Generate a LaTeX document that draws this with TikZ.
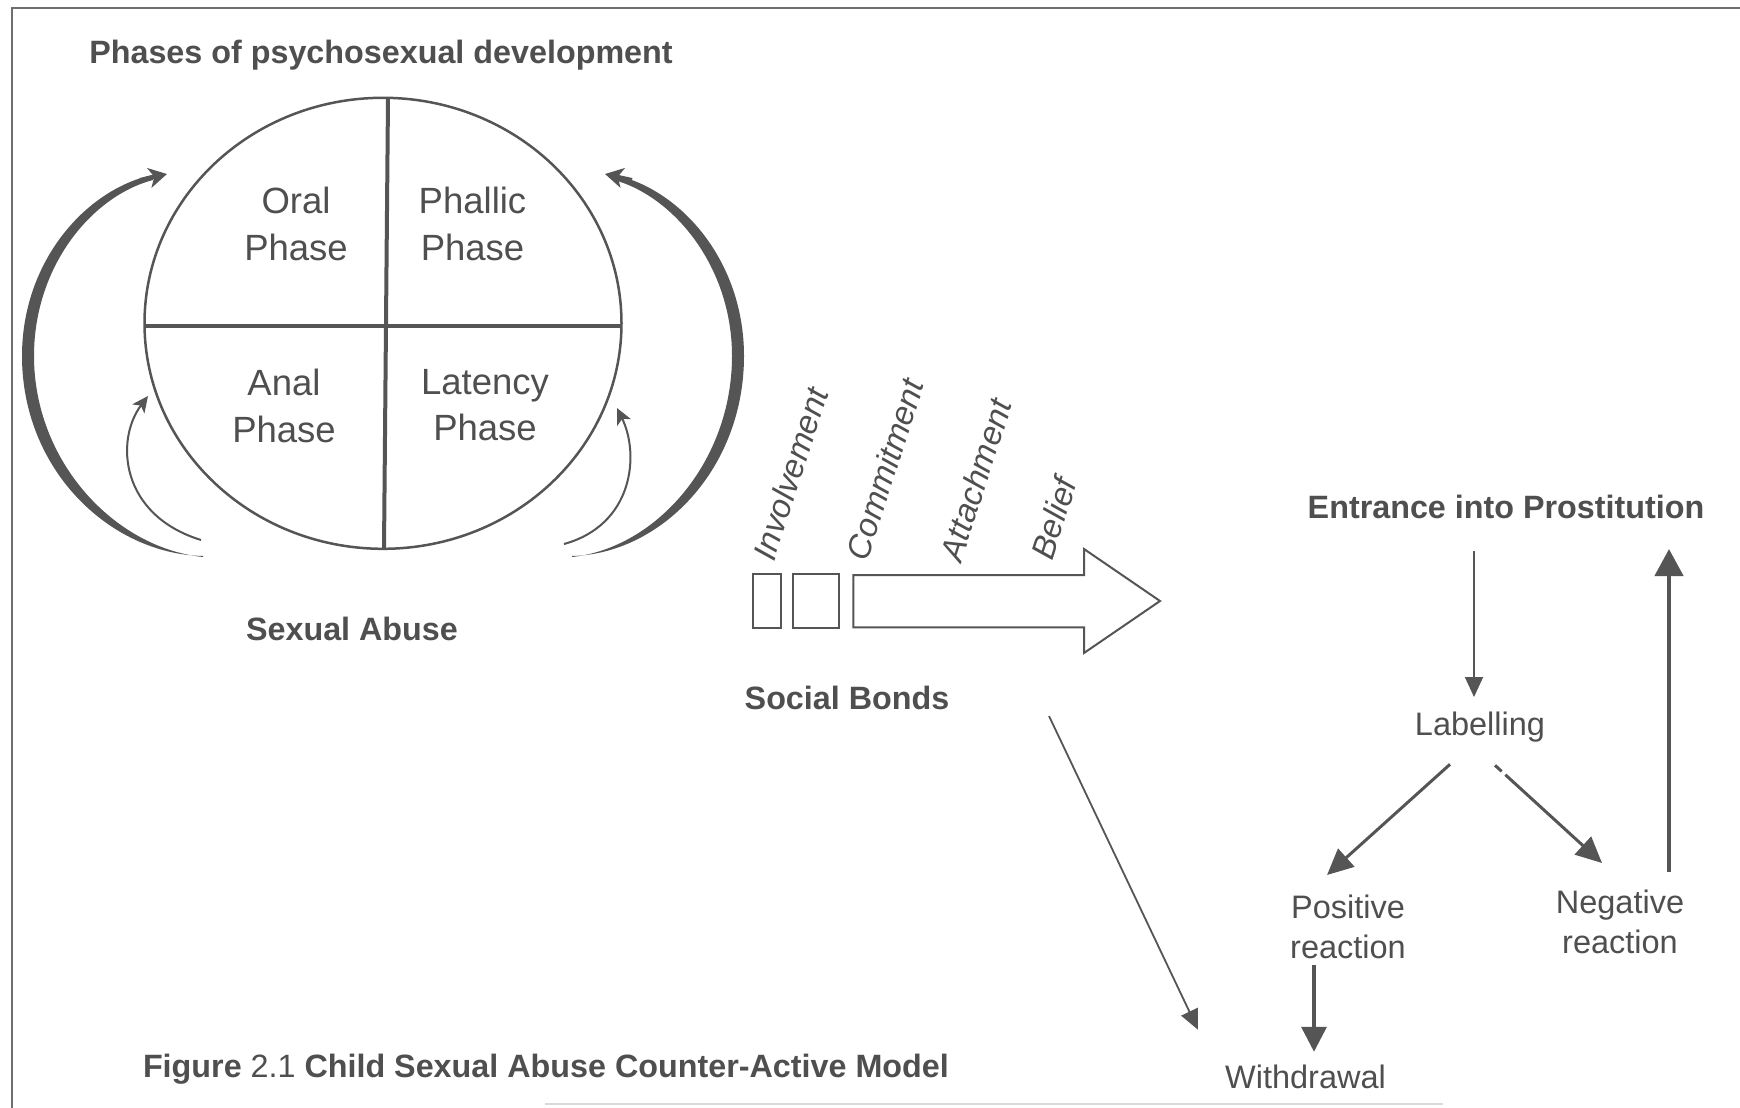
\documentclass[tikz,border=0pt]{standalone}
\usepackage{fontspec}
\setmainfont{Liberation Sans}
\usetikzlibrary{arrows.meta,shapes.geometric,calc}
\definecolor{ink}{HTML}{555555}
\definecolor{txt}{HTML}{4f4f4f}
\begin{document}
\begin{tikzpicture}[x=1pt,y=-1pt,
  every node/.style={inner sep=0pt, outer sep=0pt, text=txt},
  reg/.style={font=\fontsize{32.5}{40}\selectfont, align=center},
  quad/.style={font=\fontsize{36.5}{46.7}\selectfont, align=center, anchor=north},
  hd/.style={font=\bfseries\fontsize{32.3}{38}\selectfont},
  bond/.style={font=\itshape\fontsize{33}{38}\selectfont, rotate=72, anchor=base west},
  boxst/.style={draw=ink, line width=2pt, minimum height=54.2pt},
  thinarr/.style={draw=ink, line width=1.8pt, -{Triangle[length=20pt,width=18pt]}},
  midarr/.style={draw=ink, line width=3pt, -{Triangle[length=26pt,width=24pt]}},
  bigarr/.style={draw=ink, line width=4.5pt, -{Triangle[length=27pt,width=28pt]}},
  curvarr/.style={draw=ink, line width=2pt, -{Stealth[length=16pt,width=15pt,inset=4pt]}}
]
\useasboundingbox (0,0) rectangle (1740,1108);
\fill[white] (0,0) rectangle (1740,1108);
% frame
\draw[ink!85, line width=2pt] (12,1108) -- (12,8) -- (1740,8);
\draw[gray!30, line width=2.5pt] (545,1104) -- (1443,1104);

% title
\node[hd, anchor=base] (title) at (381,63.5) {Phases of psychosexual development};

% circle of phases
\node[ellipse, draw=ink, line width=2.5pt, minimum width=477pt, minimum height=451pt] (circ) at (383,323.3) {};
\draw[ink, line width=4pt] ($(circ.north)+(5,0)$) -- ($(circ.south)+(1,0)$);
\draw[ink, line width=4pt] ($(circ.west)+(0,3)$) -- ($(circ.east)+(0,3)$);
\node[quad] (oral) at (296,187.5) {Oral\\Phase};
\node[quad] (phal) at (472.5,187.5) {Phallic\\Phase};
\node[quad] (anal) at (284,369) {Anal\\Phase};
\node[quad] (lat) at (485,369) {Latency\\Phase};

% thick crescent arcs
\fill[ink] (203,556) .. controls (110,554) and (22,470) .. (22,356)
  .. controls (22,262) and (85,190) .. (152,175) -- (153,180)
  .. controls (92,196) and (34,266) .. (34,356)
  .. controls (34,462) and (115,548) .. (203,557) -- cycle;
\draw[ink, line width=4pt, -{Stealth[length=18pt,width=20pt,inset=5pt]}] (140,180) -- (167,174);
\fill[ink] (572,556) .. controls (660,554) and (744,470) .. (744,356)
  .. controls (744,262) and (682,190) .. (615,175) -- (614,180)
  .. controls (673,196) and (732,266) .. (732,356)
  .. controls (732,462) and (656,548) .. (572,557) -- cycle;
\draw[ink, line width=4pt, -{Stealth[length=18pt,width=20pt,inset=5pt]}] (632,180) -- (605,174);
% thin arcs
\draw[curvarr] (201,540) .. controls (120,515) and (115,440) .. (148,396);
\draw[curvarr] (564,544) .. controls (633,525) and (640,455) .. (617,408);

\node[hd, anchor=base] (sa) at (352,640) {Sexual Abuse};

% social bonds
\node[bond] (inv) at (774,562) {Involvement};
\node[bond] (com) at (867,562) {Commitment};
\node[bond] (att) at (961,563) {Attachment};
\node[bond] (bel) at (1052,561) {Belief};
\node[boxst, minimum width=28.8pt] (box1) at (767,601) {};
\node[boxst, minimum width=46pt] (box2) at (816,601) {};
\draw[ink, line width=2pt, fill=white] (853.3,575) -- (1084,575) -- (1084,549) -- (1160,601)
  -- (1084,653) -- (1084,627.4) -- (853.3,627.4) -- cycle;
\node[hd, anchor=base] (sb) at (847,709) {Social Bonds};

% right side
\node[hd, anchor=base] (entr) at (1506,518.5) {Entrance into Prostitution};
\node[reg, anchor=north] (lab) at (1480,712) {Labelling};
\node[reg, anchor=north] (pos) at (1348,895) {Positive\\reaction};
\node[reg, anchor=north] (neg) at (1620,890) {Negative\\reaction};
\node[reg, anchor=base] (wd) at (1305.5,1088) {Withdrawal};

\draw[thinarr] ($(entr.base)+(-32,32.5)$) -- ($(lab.north)+(-6,-15)$);
\draw[midarr] ($(lab.south)+(-30,22)$) -- ($(pos.north)+(-21,-20)$);
\draw[midarr, dash pattern=on 9pt off 5pt on 400pt] ($(lab.south)+(15,23)$) -- ($(neg.north)+(-18,-27)$);
\draw[bigarr] ($(neg.north)+(49,-18)$) -- ($(entr.base)+(163,30.5)$);
\draw[draw=ink, line width=3.5pt, -{Triangle[length=25pt,width=25pt]}] ($(pos.south)+(-34,6)$) -- ($(wd.north)+(8.5,-12.7)$);
\draw[thinarr] ($(sb.base)+(202,7)$) -- ($(wd.north)+(-107.5,-34.7)$);

% caption
\node[hd, anchor=base west] (cap) at (143,1077) {Figure {\mdseries 2.1} Child Sexual Abuse Counter-Active Model};
\end{tikzpicture}
\end{document}
